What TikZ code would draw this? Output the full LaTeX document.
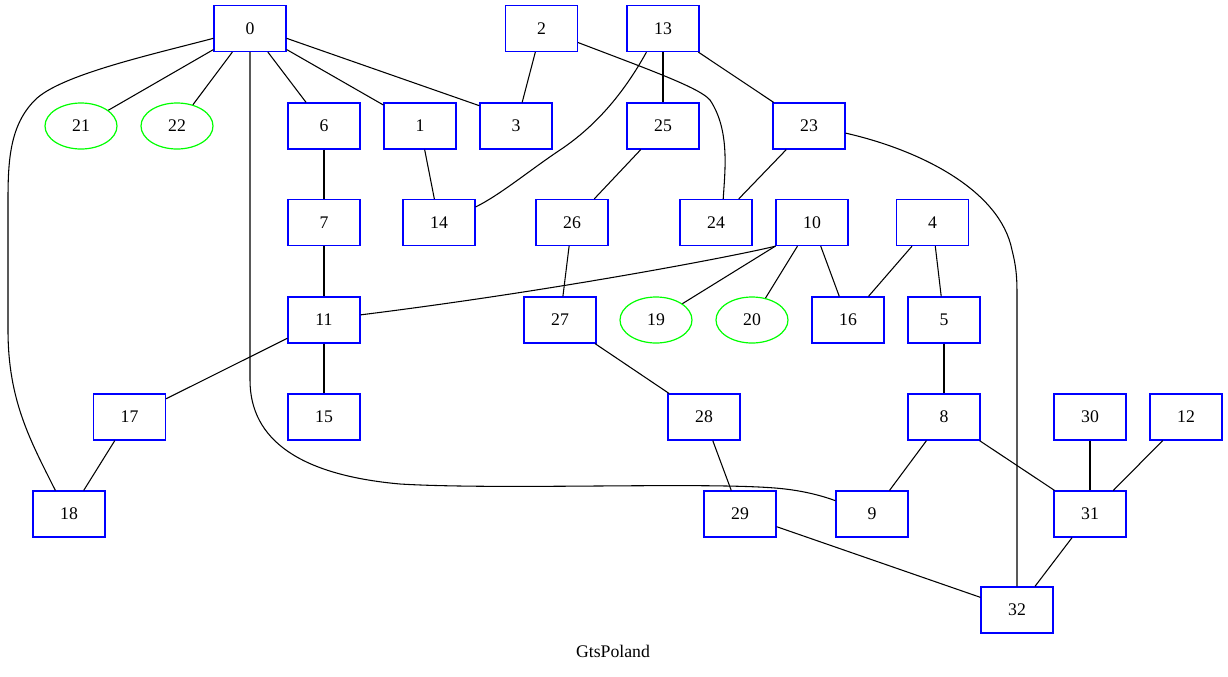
\documentclass[tikz,border=0pt]{standalone}
\usepackage{fontspec}
\setmainfont{Liberation Serif}
\usetikzlibrary{shapes.geometric}
\tikzset{
  box/.style={draw=blue, rectangle, line width=0.9pt, minimum width=54pt, minimum height=34.5pt, inner sep=0pt},
  leaf/.style={draw=green, ellipse, line width=0.9pt, minimum width=54pt, minimum height=34.5pt, inner sep=0pt},
  link/.style={draw=black, line width=0.8pt}
}
\begin{document}
\begin{tikzpicture}[x=0.75pt, y=-0.75pt, font=\fontsize{13.3}{16}\selectfont]
    \useasboundingbox (0,0) rectangle (1228,676);

    % rank 1
    \node[box] (n0) at (250, 28.5) {0};
    \node[box] (n2) at (541.5, 28.5) {2};
    \node[box] (n13) at (663, 28.5) {13};

    % rank 2
    \node[leaf] (n21) at (81, 126) {21};
    \node[leaf] (n22) at (177, 126) {22};
    \node[box] (n6) at (324, 126) {6};
    \node[box] (n1) at (420, 126) {1};
    \node[box] (n3) at (516, 126) {3};
    \node[box] (n25) at (663, 126) {25};
    \node[box] (n23) at (809, 126) {23};

    % rank 3
    \node[box] (n7) at (324, 222.5) {7};
    \node[box] (n14) at (439, 222.5) {14};
    \node[box] (n26) at (572, 222.5) {26};
    \node[box] (n24) at (716, 222.5) {24};
    \node[box] (n10) at (812, 222.5) {10};
    \node[box] (n4) at (932.5, 222.5) {4};

    % rank 4
    \node[box] (n11) at (324, 320) {11};
    \node[box] (n27) at (560, 320) {27};
    \node[leaf] (n19) at (656, 320) {19};
    \node[leaf] (n20) at (752, 320) {20};
    \node[box] (n16) at (848, 320) {16};
    \node[box] (n5) at (944, 320) {5};

    % rank 5
    \node[box] (n17) at (129.5, 417) {17};
    \node[box] (n15) at (324, 417) {15};
    \node[box] (n28) at (704, 417) {28};
    \node[box] (n8) at (944, 417) {8};
    \node[box] (n30) at (1090, 417) {30};
    \node[box] (n12) at (1186, 417) {12};

    % rank 6
    \node[box] (n18) at (69, 514) {18};
    \node[box] (n29) at (740, 514) {29};
    \node[box] (n9) at (872, 514) {9};
    \node[box] (n31) at (1090, 514) {31};

    % rank 7
    \node[box] (n32) at (1017, 610) {32};

    % title
    \node (title) at (613, 651) {GtsPoland};

    % straight links
    \foreach \a/\b in {n0/n21, n0/n22, n0/n6, n0/n1, n2/n3, n13/n25, n13/n23,
                       n6/n7, n7/n11, n1/n14, n25/n26, n23/n24, n26/n27,
                       n10/n20, n10/n16, n4/n16, n4/n5,
                       n11/n17, n11/n15, n27/n28, n5/n8, n17/n18, n28/n29,
                       n8/n9, n8/n31, n30/n31, n12/n31, n29/n32, n31/n32}
        \draw[link] (\a) -- (\b);
    \draw[link] (n10.south west) -- (n19);
    \draw[link] (n0.-15) -- (n3.151);

    % curved links
    \draw[link] (n10.213) .. controls (740,255) and (560,290) .. (n11.8);
    \draw[link] (n0.195) .. controls (150,55) and (60,75) .. (35,100)
        .. controls (10,125) and (8,160) .. (8,200) -- (8,330)
        .. controls (8,400) and (30,440) .. (n18.120);
    \draw[link] (n0.south) -- (250,380) .. controls (250,440) and (300,475) .. (400,484)
        .. controls (500,490) and (700,482) .. (775,488)
        .. controls (800,490) and (820,495) .. (n9.160);
    \draw[link] (n2.-21) .. controls (650,70) and (700,88) .. (710,100)
        .. controls (730,130) and (725,170) .. (n24.73);
    \draw[link] (n13.235) .. controls (620,100) and (590,130) .. (560,150)
        .. controls (530,170) and (500,195) .. (n14.23);
    \draw[link] (n23.-11) .. controls (920,150) and (1000,190) .. (1012,250)
        .. controls (1017,270) and (1017,280) .. (1017,300) -- (n32.north);
\end{tikzpicture}
\end{document}
